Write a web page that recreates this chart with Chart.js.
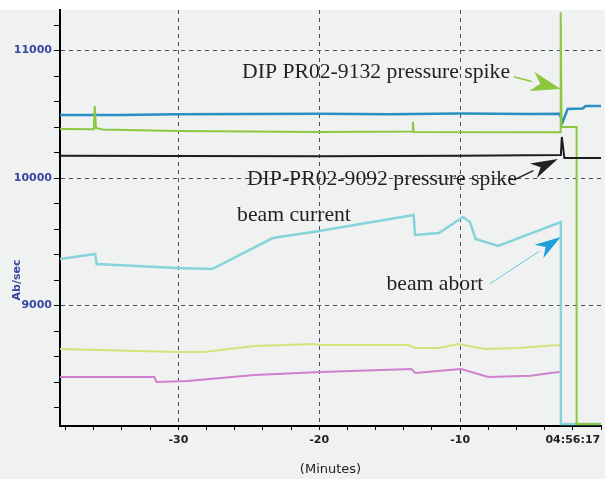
<!DOCTYPE html>
<html>
<head>
<meta charset="utf-8">
<script src="https://cdn.jsdelivr.net/npm/chart.js@4.4.1/dist/chart.umd.min.js"></script>
<style>
  html, body { margin: 0; padding: 0; background: #f0f1f1; }
  #wrap { width: 605px; height: 479px; }
</style>
</head>
<body>
<div id="wrap"><canvas id="abortChart" width="605" height="479"></canvas></div>
<script>
// minutes before 04:56:17 ... values in Ab/sec
var blueMinutes = [-38.4, -34.0, -30.1, -25.0, -20.0, -15.0, -10.0, -5.0, -2.95, -2.72, -2.37, -1.3, -1.1, 0];
var blueValues = [10495, 10495, 10500, 10503, 10505, 10500, 10506, 10503, 10505, 10440, 10541, 10545, 10565, 10565];

var greenMinutes = [-38.4, -36.0, -35.93, -35.85, -35.4, -30.1, -20.0, -13.4, -13.35, -13.3, -2.9, -2.86, -2.8, -2.6, -1.73, -1.73, 0];
var greenValues = [10385, 10382, 10565, 10392, 10380, 10368, 10362, 10365, 10440, 10362, 10360, 11300, 10400, 10400, 10400, 8070, 8070];

var blackMinutes = [-38.4, -30.1, -20.0, -10.0, -2.85, -2.78, -2.6, 0];
var blackValues = [10175, 10172, 10170, 10175, 10180, 10322, 10157, 10157];

var beamMinutes = [-38.4, -35.9, -35.8, -30.1, -27.6, -23.3, -20.0, -13.3, -13.2, -11.5, -9.8, -9.3, -8.9, -7.3, -2.85, -2.85, 0];
var beamValues = [9365, 9404, 9325, 9294, 9286, 9529, 9584, 9710, 9553, 9569, 9694, 9655, 9522, 9467, 9655, 8070, 8070];

var yellowMinutes = [-38.4, -30.06, -28.2, -24.6, -20.4, -20.0, -13.67, -13.18, -11.55, -10.14, -8.23, -5.9, -2.93];
var yellowValues = [8659, 8635, 8635, 8682, 8698, 8690, 8690, 8667, 8667, 8698, 8659, 8667, 8690];

var magentaMinutes = [-38.4, -31.7, -31.55, -29.36, -24.6, -19.9, -13.46, -13.18, -9.93, -8.0, -5.0, -3.57, -2.93];
var magentaValues = [8439, 8439, 8400, 8408, 8455, 8478, 8502, 8471, 8502, 8439, 8450, 8471, 8478];

var xTickLabels = { "-30": "-30", "-20": "-20", "-10": "-10", "-2": "04:56:17" };
var yTickLabels = { "9000": "9000", "10000": "10000", "11000": "11000" };

function toPoints(xs, ys) {
  var pts = [];
  for (var i = 0; i < xs.length; i++) {
    pts.push({ x: xs[i], y: ys[i] });
  }
  return pts;
}

function lineSet(label, xs, ys, color, width) {
  return {
    label: label,
    data: toPoints(xs, ys),
    borderColor: color,
    borderWidth: width,
    pointRadius: 0,
    tension: 0,
    fill: false,
  };
}

function drawArrow(ctx, x1, y1, x2, y2, lineColor, headColor, lineWidth, headLen, headHalf) {
  var ang = Math.atan2(y2 - y1, x2 - x1);
  var bx = x2 - headLen * Math.cos(ang);
  var by = y2 - headLen * Math.sin(ang);
  ctx.save();
  ctx.strokeStyle = lineColor;
  ctx.lineWidth = lineWidth;
  ctx.beginPath();
  ctx.moveTo(x1, y1);
  ctx.lineTo(bx, by);
  ctx.stroke();
  ctx.fillStyle = headColor;
  ctx.beginPath();
  ctx.moveTo(x2, y2);
  ctx.lineTo(bx + headHalf * Math.sin(ang), by - headHalf * Math.cos(ang));
  ctx.lineTo(bx + headLen * 0.3 * Math.cos(ang), by + headLen * 0.3 * Math.sin(ang));
  ctx.lineTo(bx - headHalf * Math.sin(ang), by + headHalf * Math.cos(ang));
  ctx.closePath();
  ctx.fill();
  ctx.restore();
}

var backdropPlugin = {
  id: "backdrop",
  beforeDraw: function (chart) {
    var ctx = chart.ctx;
    ctx.save();
    ctx.fillStyle = "#f0f1f1";
    ctx.fillRect(0, 0, chart.width, chart.height);
    ctx.fillStyle = "#ffffff";
    ctx.fillRect(0, 0, chart.width, chart.chartArea.top);
    ctx.restore();
  },
};

var notesPlugin = {
  id: "notes",
  afterDatasetsDraw: function (chart) {
    var ctx = chart.ctx;
    var xs = chart.scales.x;
    var ys = chart.scales.y;
    function px(v) { return xs.getPixelForValue(v); }
    function py(v) { return ys.getPixelForValue(v); }

    ctx.save();
    ctx.font = "21.7px 'Liberation Serif', 'Times New Roman', serif";
    ctx.fillStyle = "#231f20";
    ctx.textAlign = "left";
    ctx.textBaseline = "middle";
    ctx.fillText("DIP PR02-9132 pressure spike", px(-25.48), py(10830));
    ctx.fillText("DIP-PR02-9092 pressure spike", px(-25.13), py(9992));
    ctx.fillText("beam current", px(-25.83), py(9710));
    ctx.fillText("beam abort", px(-15.23), py(9165));
    ctx.restore();

    drawArrow(ctx, px(-6.2), py(10795), px(-2.86), py(10698), "#8dc63f", "#8dc63f", 1.5, 30, 10);
    drawArrow(ctx, px(-6.2), py(9984), px(-3.07), py(10149), "#231f20", "#231f20", 1.5, 27, 8);
    drawArrow(ctx, px(-7.9), py(9169), px(-2.86), py(9537), "#6cc8e0", "#1ea0dc", 1, 26, 8);

    ctx.save();
    ctx.fillStyle = "#222222";
    ctx.font = "13px 'DejaVu Sans', sans-serif";
    ctx.textAlign = "center";
    ctx.textBaseline = "middle";
    ctx.fillText("(Minutes)", (chart.chartArea.left + chart.chartArea.right) / 2, 470);
    ctx.translate(17, py(9200));
    ctx.rotate(-Math.PI / 2);
    ctx.fillStyle = "#3a47a0";
    ctx.font = "bold 11px 'DejaVu Sans', sans-serif";
    ctx.fillText("Ab/sec", 0, 0);
    ctx.restore();
  },
};

var ctx = document.getElementById("abortChart").getContext("2d");
var abortChart = new Chart(ctx, {
  type: "line",
  data: {
    datasets: [
      lineSet("DIP PR02-9092", blackMinutes, blackValues, "#1e1e1e", 2),
      lineSet("DIP PR02-9132", greenMinutes, greenValues, "#8dc63f", 2),
      lineSet("blue", blueMinutes, blueValues, "#2a8fc2", 2.5),
      lineSet("beam current", beamMinutes, beamValues, "#86d3d8", 2.5),
      lineSet("yellow", yellowMinutes, yellowValues, "#d6e27c", 2),
      lineSet("magenta", magentaMinutes, magentaValues, "#cf80cf", 2),
    ],
  },
  options: {
    responsive: false,
    animation: false,
    devicePixelRatio: 1,
    layout: { padding: { top: 10, right: 1, left: 0, bottom: 0 } },
    plugins: {
      legend: { display: false },
      tooltip: { enabled: false },
    },
    scales: {
      x: {
        type: "linear",
        min: -38.4,
        max: 0,
        afterBuildTicks: function (scale) {
          var t = [];
          for (var v = -38; v <= 0; v += 2) t.push({ value: v });
          scale.ticks = t;
        },
        afterFit: function (scale) { scale.height = 53; },
        ticks: {
          autoSkip: false,
          maxRotation: 0,
          padding: 4,
          color: "#222222",
          font: { family: "'DejaVu Sans', sans-serif", size: 11, weight: "bold" },
          callback: function (value) { return xTickLabels[String(value)] || ""; },
        },
        grid: {
          color: function (c) {
            return c.tick && xTickLabels[String(c.tick.value)] && c.tick.value !== -2 ? "#4a4a60" : "rgba(0,0,0,0)";
          },
          tickColor: "#000000",
          tickLength: 4,
          lineWidth: 1,
        },
        border: { color: "#000000", width: 2, dash: [4, 4] },
      },
      y: {
        type: "linear",
        min: 8055,
        max: 11318,
        afterBuildTicks: function (scale) {
          var t = [];
          for (var v = 8200; v <= 11200; v += 200) t.push({ value: v });
          scale.ticks = t;
        },
        afterFit: function (scale) { scale.width = 60; },
        ticks: {
          autoSkip: false,
          padding: 2,
          color: "#3a47a0",
          font: { family: "'DejaVu Sans', sans-serif", size: 11, weight: "bold" },
          callback: function (value) { return yTickLabels[String(value)] || ""; },
        },
        grid: {
          color: function (c) {
            return c.tick && c.tick.value % 1000 === 0 ? "#4a4a60" : "rgba(0,0,0,0)";
          },
          tickColor: "#000000",
          tickLength: 6,
          lineWidth: 1,
        },
        border: { color: "#000000", width: 2, dash: [4, 4] },
      },
    },
  },
  plugins: [backdropPlugin, notesPlugin],
});
</script>
</body>
</html>
